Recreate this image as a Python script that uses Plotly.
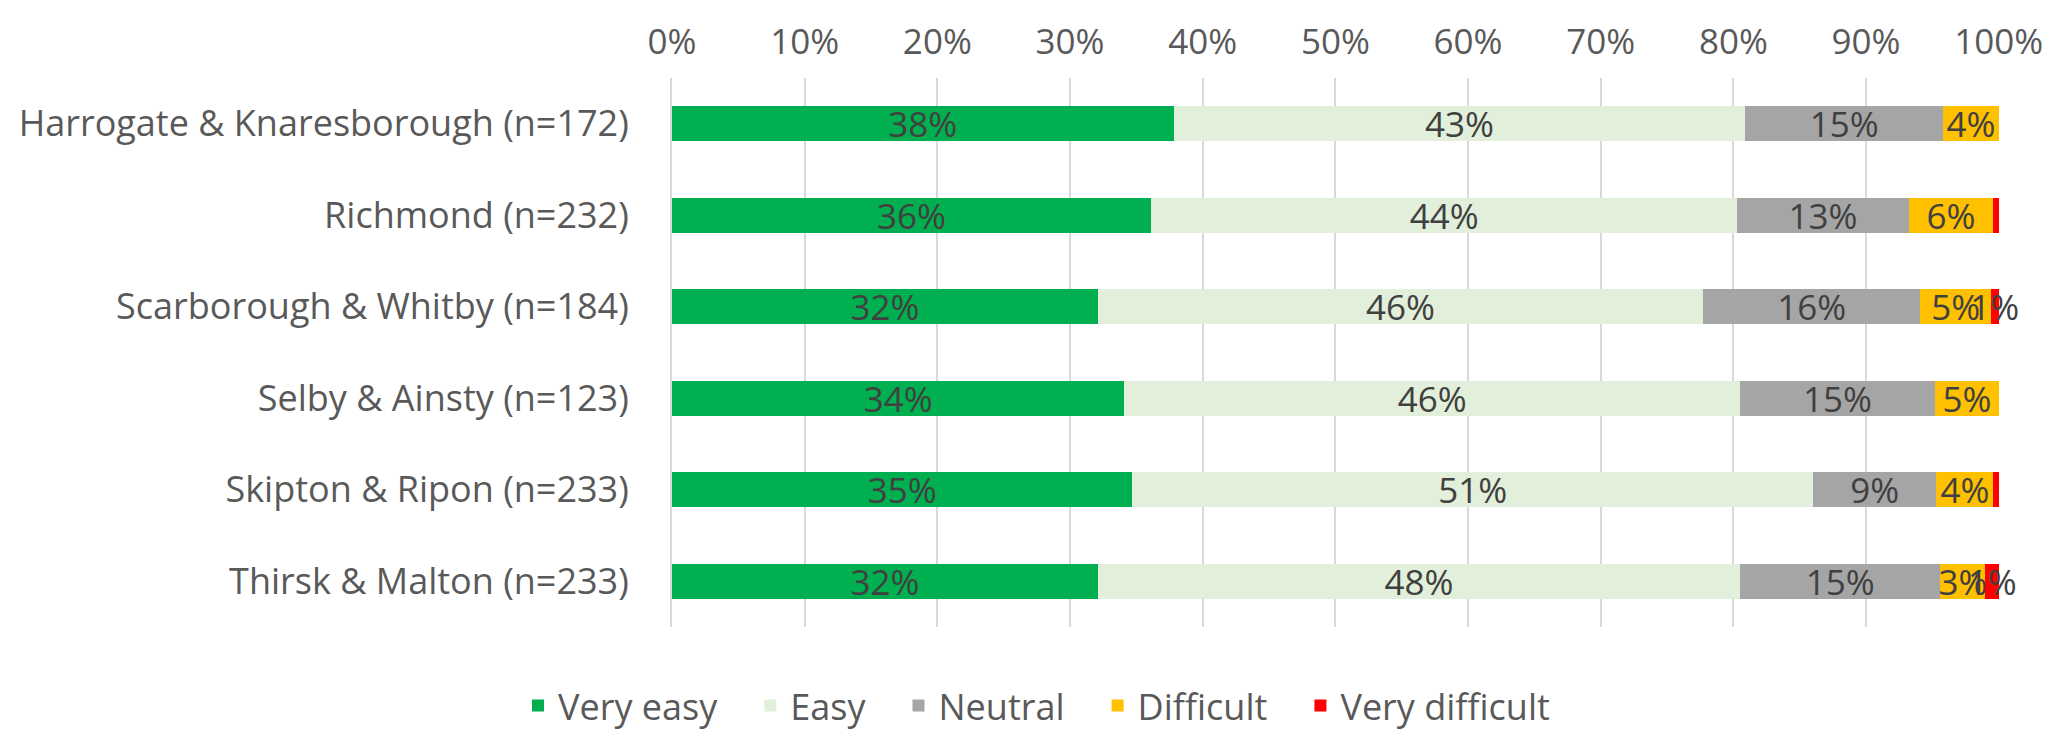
import plotly.graph_objects as go

categories = [
    "Harrogate & Knaresborough (n=172)",
    "Richmond (n=232)",
    "Scarborough & Whitby (n=184)",
    "Selby & Ainsty (n=123)",
    "Skipton & Ripon (n=233)",
    "Thirsk & Malton (n=233)",
]
series_names = ["Very easy", "Easy", "Neutral", "Difficult", "Very difficult"]
very_easy = [37.8, 36.1, 32.1, 34.1, 34.7, 32.1]
easy = [43.1, 44.2, 45.6, 46.4, 51.3, 48.4]
neutral = [14.9, 12.9, 16.4, 14.7, 9.3, 15.1]
difficult = [4.2, 6.4, 5.3, 4.8, 4.3, 3.4]
very_difficult = [0.0, 0.4, 0.6, 0.0, 0.4, 1.0]
colors = ["#00B050", "#E2EFDA", "#A5A5A5", "#FFC000", "#FF0000"]
x_ticks = [0, 10, 20, 30, 40, 50, 60, 70, 80, 90, 100]

FONT = "Open Sans"
FS = 35

fig = go.Figure()
all_series = [very_easy, easy, neutral, difficult, very_difficult]
for i, (name, vals, col) in enumerate(zip(series_names, all_series, colors)):
    labels = [f"{round(v)}%" if round(v) >= 1 else "" for v in vals]
    legend_name = name + ("\u00a0\u00a0\u00a0" if i < len(series_names) - 1 else "")
    fig.add_trace(go.Bar(
        y=categories, x=vals, name=legend_name, orientation="h",
        marker=dict(color=col, line=dict(width=0)),
        text=labels, textposition="inside", insidetextanchor="middle",
        textangle=0,
        textfont=dict(family=FONT, size=FS, color="#404040"),
        cliponaxis=False,
        hoverinfo="x+y",
    ))

fig.update_layout(
    width=2057, height=732,
    barmode="stack", bargap=0.62,
    paper_bgcolor="white", plot_bgcolor="white",
    margin=dict(l=664, r=66, t=70, b=113),
    font=dict(family=FONT, size=FS, color="#595959"),
    uniformtext=dict(mode="show", minsize=FS),
    showlegend=True,
    legend=dict(
        orientation="h", traceorder="normal",
        xref="container", yref="container",
        x=0.5, xanchor="center", y=0.047, yanchor="middle",
        font=dict(family=FONT, size=36, color="#595959"),
        itemwidth=30,
    ),
)
fig.update_xaxes(
    side="top", range=[0, 100.02], tickvals=x_ticks,
    ticktext=[f"{t}%" for t in x_ticks],
    showgrid=True, gridcolor="#D9D9D9", gridwidth=2,
    zeroline=False, showline=False, automargin=False,
    ticks="", ticklabelstandoff=16,
    tickfont=dict(family=FONT, size=FS, color="#595959"),
)
fig.update_yaxes(
    autorange="reversed", categoryorder="array", categoryarray=categories,
    showgrid=False, zeroline=False, automargin=False,
    showline=True, linecolor="#D9D9D9", linewidth=2,
    ticks="", ticklabelstandoff=34,
    tickfont=dict(family=FONT, size=36, color="#595959"),
)

fig.write_html("out.html")
